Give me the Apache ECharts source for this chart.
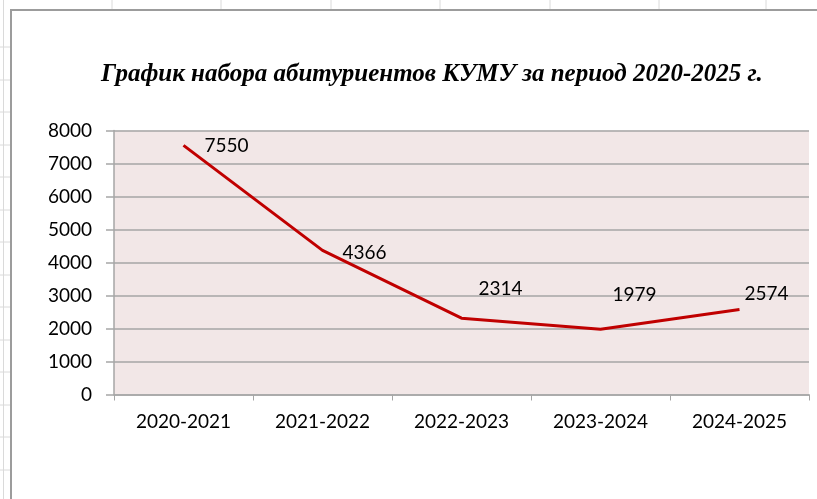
<!DOCTYPE html>
<html>
<head>
<meta charset="utf-8">
<title>График набора абитуриентов</title>
<script src="https://cdn.jsdelivr.net/npm/echarts@6/dist/echarts.min.js"></script>
<style>
  html, body { margin: 0; padding: 0; background: #fff; }
  #chart { width: 817px; height: 499px; }
</style>
</head>
<body>
<div id="chart"></div>
<script>
// data
const periods = ['2020-2021', '2021-2022', '2022-2023', '2023-2024', '2024-2025'];
const applicants = [7550, 4366, 2314, 1979, 2574];
const yTicks = { min: 0, max: 8000, step: 1000 };
const titleText = 'График набора абитуриентов КУМУ за период 2020-2025 г.';

// label nudges (the excel labels were dragged by hand)
const labelShift = [[43, 1], [42, 2], [39, -29], [34, -34], [27, -16]];

const labelFont = 'Lato';
const gridGray = '#a6a6a6';
const sheetLine = '#dadada';

const chart = echarts.init(document.getElementById('chart'));

// spreadsheet cells peeking around the chart frame
const sheetBits = [];
[112, 221, 331, 440, 550, 659, 766].forEach(x => {
  sheetBits.push({ type: 'line', shape: { x1: x, y1: 0, x2: x, y2: 10 }, style: { stroke: sheetLine, lineWidth: 1 } });
});
[47, 80, 112, 145, 177, 210, 242, 275, 307, 340, 372, 405, 437, 470].forEach(y => {
  sheetBits.push({ type: 'line', shape: { x1: 0, y1: y, x2: 11, y2: y }, style: { stroke: sheetLine, lineWidth: 1 } });
});
sheetBits.push({ type: 'line', shape: { x1: 3.5, y1: 0, x2: 3.5, y2: 499 }, style: { stroke: sheetLine, lineWidth: 1 } });
sheetBits.push({ type: 'rect', shape: { x: 11, y: 10, width: 830, height: 520 }, style: { fill: 'none', stroke: '#9c9c9c', lineWidth: 2 }, z: 10 });

const option = {
  backgroundColor: '#ffffff',
  animation: false,
  title: {
    text: titleText,
    left: 96,
    top: 57,
    textStyle: {
      fontFamily: 'Liberation Serif',
      fontStyle: 'italic',
      fontWeight: 'bold',
      fontSize: 25,
      color: '#000'
    }
  },
  graphic: sheetBits,
  grid: {
    left: 114,
    right: 8,
    top: 130.5,
    bottom: 104.5,
    show: true,
    backgroundColor: '#f2e7e7',
    borderWidth: 0
  },
  xAxis: {
    type: 'category',
    data: periods,
    boundaryGap: true,
    axisLine: { lineStyle: { color: gridGray, width: 1.5 } },
    axisTick: { show: true, length: 6, lineStyle: { color: gridGray, width: 1 } },
    axisLabel: { color: '#000', fontFamily: labelFont, fontSize: 19, margin: 18 },
    splitLine: { show: false }
  },
  yAxis: {
    type: 'value',
    min: yTicks.min,
    max: yTicks.max,
    interval: yTicks.step,
    axisLine: { show: true, lineStyle: { color: gridGray, width: 1.5 } },
    axisTick: { show: true, length: 8, lineStyle: { color: gridGray, width: 1.5 } },
    axisLabel: { color: '#000', fontFamily: labelFont, fontSize: 19, margin: 22, formatter: v => String(v) },
    splitLine: { show: true, lineStyle: { color: gridGray, width: 1.5 } }
  },
  series: [{
    type: 'line',
    data: applicants.map((v, i) => ({
      value: v,
      label: { offset: labelShift[i] }
    })),
    symbol: 'circle',
    symbolSize: 0.1,
    lineStyle: { color: '#c00000', width: 3 },
    itemStyle: { color: '#c00000' },
    label: {
      show: true,
      position: 'inside',
      color: '#000',
      fontFamily: labelFont,
      fontSize: 19
    }
  }]
};

chart.setOption(option);
</script>
</body>
</html>
